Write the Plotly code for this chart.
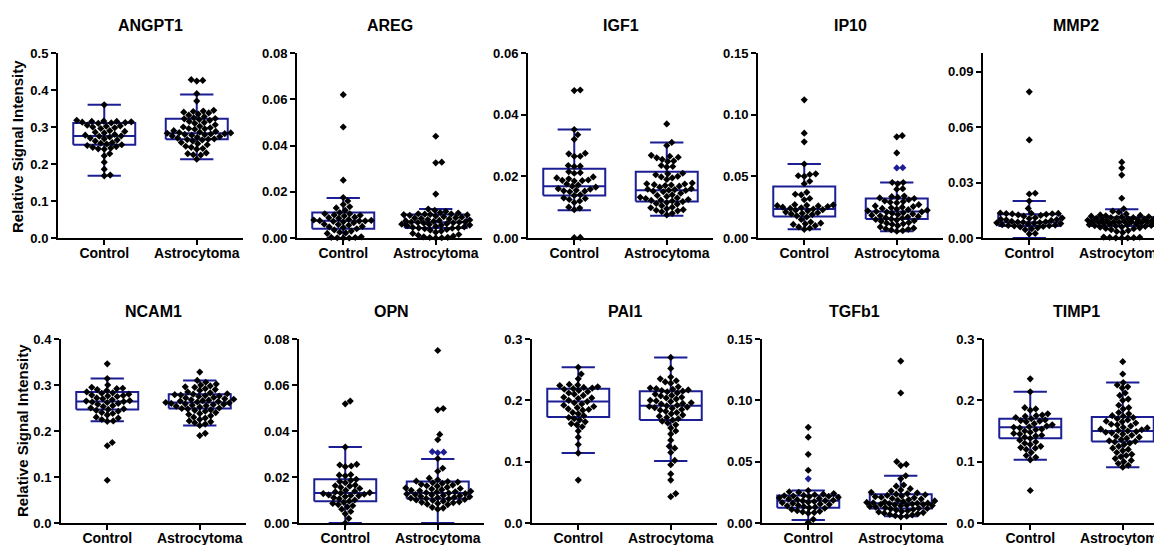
import plotly.graph_objects as go
import numpy as np

# ---------------- data ----------------
panels = ["ANGPT1", "AREG", "IGF1", "IP10", "MMP2", "NCAM1", "OPN", "PAI1", "TGFb1", "TIMP1"]
groups = ["Control", "Astrocytoma"]
y_max = [0.5, 0.08, 0.06, 0.15, 0.1, 0.4, 0.08, 0.3, 0.15, 0.3]
y_dtick = [0.1, 0.02, 0.02, 0.05, 0.03, 0.1, 0.02, 0.1, 0.05, 0.1]
y_fmt = [".1f", ".2f", ".2f", ".2f", ".2f", ".1f", ".2f", ".1f", ".2f", ".1f"]
y_title = "Relative Signal Intensity"

angpt1_control = [0.360, 0.318, 0.316, 0.315, 0.315, 0.314, 0.313, 0.312, 0.311, 0.310, 0.305, 0.303, 0.302, 0.300, 0.298,
                  0.296, 0.290, 0.288, 0.286, 0.284, 0.280, 0.278, 0.276, 0.275, 0.273, 0.270, 0.268, 0.265, 0.262, 0.258,
                  0.256, 0.254, 0.252, 0.250, 0.247, 0.245, 0.243, 0.241, 0.240, 0.228, 0.222, 0.205, 0.186, 0.170, 0.168]
angpt1_astro = [0.428, 0.426, 0.424, 0.390, 0.370, 0.345, 0.343, 0.342, 0.340, 0.338, 0.335, 0.332, 0.328, 0.325, 0.323,
                0.322, 0.320, 0.318, 0.315, 0.312, 0.310, 0.306, 0.302, 0.300, 0.298, 0.296, 0.295, 0.294, 0.290, 0.288,
                0.286, 0.285, 0.284, 0.283, 0.282, 0.281, 0.280, 0.279, 0.278, 0.276, 0.274, 0.272, 0.270, 0.268, 0.267,
                0.266, 0.265, 0.262, 0.258, 0.255, 0.252, 0.248, 0.245, 0.242, 0.240, 0.230, 0.228, 0.225, 0.224, 0.213]

areg_control = [0.062, 0.048, 0.025, 0.0175, 0.016, 0.0145, 0.013, 0.0135, 0.012, 0.011, 0.0105, 0.0105, 0.010, 0.0098,
                0.0095, 0.009, 0.0088, 0.0085, 0.008, 0.0078, 0.0076, 0.0075, 0.0074, 0.0073, 0.0072, 0.007, 0.0066,
                0.006, 0.0058, 0.0055, 0.005, 0.0048, 0.0045, 0.004, 0.0035, 0.003, 0.0025, 0.0022, 0.002, 0.0005,
                0.0003, 0.0002, 0.0001, 0.0, 0.0]
areg_astro = [0.044, 0.0328, 0.0325, 0.019, 0.0125, 0.012, 0.0115, 0.011, 0.0108, 0.0105, 0.0104, 0.0103, 0.0102, 0.0101,
              0.010, 0.0098, 0.0095, 0.0092, 0.009, 0.0088, 0.0086, 0.0084, 0.0082, 0.008, 0.0078, 0.0076, 0.0074, 0.0072,
              0.007, 0.0069, 0.0068, 0.0067, 0.0066, 0.0064, 0.0062, 0.006, 0.0058, 0.0056, 0.0055, 0.0053, 0.005, 0.0048,
              0.0046, 0.0044, 0.0043, 0.0042, 0.004, 0.0037, 0.0034, 0.003, 0.0025, 0.002, 0.0015, 0.0012, 0.0008,
              0.0005, 0.0003, 0.0002, 0.0001, 0.0]

igf1_control = [0.0480, 0.0478, 0.0352, 0.0335, 0.0320, 0.0275, 0.0273, 0.0265, 0.0265, 0.0235, 0.0233, 0.0232, 0.0215,
                0.0212, 0.0210, 0.0198, 0.0195, 0.0192, 0.0188, 0.0187, 0.0186, 0.0185, 0.0175, 0.0172, 0.0168, 0.0165,
                0.0160, 0.0158, 0.0155, 0.0153, 0.0152, 0.0150, 0.0140, 0.0138, 0.0130, 0.0128, 0.0125, 0.0120, 0.0115,
                0.0100, 0.0097, 0.0092, 0.0002, 0.0001]
igf1_astro = [0.0370, 0.0310, 0.0300, 0.0268, 0.0265, 0.0262, 0.0260, 0.0255, 0.0250, 0.0248, 0.0235, 0.0232, 0.0230,
              0.0210, 0.0208, 0.0205, 0.0200, 0.0198, 0.0195, 0.0190, 0.0178, 0.0176, 0.0175, 0.0173, 0.0172, 0.0170,
              0.0168, 0.0165, 0.0160, 0.0158, 0.0157, 0.0155, 0.0154, 0.0152, 0.0150, 0.0145, 0.0140, 0.0138, 0.0135,
              0.0132, 0.0130, 0.0128, 0.0125, 0.0123, 0.0122, 0.0120, 0.0118, 0.0115, 0.0112, 0.0110, 0.0105, 0.0100,
              0.0098, 0.0095, 0.0092, 0.0090, 0.0088, 0.0085, 0.0080, 0.0075]

ip10_control = [0.112, 0.085, 0.078, 0.060, 0.0520, 0.0515, 0.0505, 0.0500, 0.0460, 0.0440, 0.0370, 0.0355, 0.0350,
                0.0320, 0.0310, 0.0270, 0.0268, 0.0265, 0.0262, 0.0260, 0.0255, 0.0250, 0.0245, 0.0240, 0.0235, 0.0230,
                0.0225, 0.0220, 0.0210, 0.0205, 0.0200, 0.0195, 0.0190, 0.0180, 0.0170, 0.0150, 0.0130, 0.0120, 0.0115,
                0.0110, 0.0100, 0.0090, 0.0080, 0.0070]
ip10_astro = [0.083, 0.082, 0.069, 0.057, 0.0568, 0.045, 0.0450, 0.0440, 0.0400, 0.0395, 0.0340, 0.0335, 0.0330, 0.0325,
              0.0320, 0.0310, 0.0300, 0.0295, 0.0290, 0.0285, 0.0270, 0.0260, 0.0255, 0.0250, 0.0245, 0.0240, 0.0235,
              0.0230, 0.0225, 0.0220, 0.0215, 0.0212, 0.0210, 0.0205, 0.0200, 0.0195, 0.0190, 0.0185, 0.0180, 0.0175,
              0.0170, 0.0165, 0.0160, 0.0155, 0.0150, 0.0145, 0.0140, 0.0135, 0.0125, 0.0120, 0.0115, 0.0110, 0.0100,
              0.0090, 0.0080, 0.0075, 0.0070, 0.0065, 0.0060, 0.0055]

mmp2_control = [0.079, 0.053, 0.0242, 0.0238, 0.0200, 0.0160, 0.0135, 0.0134, 0.0133, 0.0132, 0.0131, 0.0130, 0.0128,
                0.0125, 0.0122, 0.0118, 0.0110, 0.0108, 0.0105, 0.0102, 0.0100, 0.0098, 0.0095, 0.0090, 0.0088, 0.0086,
                0.0085, 0.0084, 0.0082, 0.0080, 0.0078, 0.0075, 0.0072, 0.0070, 0.0068, 0.0066, 0.0065, 0.0062, 0.0060,
                0.0055, 0.0050, 0.0045, 0.0025, 0.0022]
mmp2_astro = [0.041, 0.0378, 0.034, 0.0215, 0.0158, 0.0145, 0.0140, 0.0130, 0.0125, 0.0122, 0.0120, 0.0118, 0.0115,
              0.0113, 0.0112, 0.0111, 0.0110, 0.0108, 0.0106, 0.0104, 0.0102, 0.0100, 0.0098, 0.0096, 0.0094, 0.0092,
              0.0090, 0.0089, 0.0088, 0.0087, 0.0086, 0.0085, 0.0084, 0.0082, 0.0080, 0.0078, 0.0076, 0.0074, 0.0072,
              0.0070, 0.0068, 0.0066, 0.0065, 0.0063, 0.0060, 0.0058, 0.0055, 0.0052, 0.0050, 0.0045, 0.0040, 0.0035,
              0.0030, 0.0005, 0.0004, 0.0003, 0.0002, 0.0001, 0.0001, 0.0]

ncam1_control = [0.346, 0.314, 0.300, 0.295, 0.293, 0.292, 0.290, 0.288, 0.285, 0.283, 0.282, 0.280, 0.278, 0.277, 0.276,
                 0.275, 0.272, 0.270, 0.268, 0.266, 0.265, 0.264, 0.263, 0.262, 0.260, 0.258, 0.255, 0.253, 0.250, 0.248,
                 0.247, 0.245, 0.243, 0.240, 0.238, 0.235, 0.230, 0.228, 0.225, 0.222, 0.221, 0.175, 0.168, 0.093]
ncam1_astro = [0.328, 0.310, 0.306, 0.302, 0.300, 0.298, 0.296, 0.295, 0.292, 0.290, 0.288, 0.285, 0.283, 0.281, 0.280,
               0.279, 0.278, 0.277, 0.276, 0.275, 0.273, 0.272, 0.270, 0.269, 0.268, 0.267, 0.266, 0.265, 0.264, 0.263,
               0.262, 0.261, 0.260, 0.259, 0.258, 0.257, 0.256, 0.255, 0.254, 0.252, 0.250, 0.249, 0.248, 0.246, 0.245,
               0.243, 0.240, 0.238, 0.236, 0.233, 0.230, 0.228, 0.225, 0.222, 0.220, 0.218, 0.215, 0.212, 0.195, 0.190]

opn_control = [0.0530, 0.0518, 0.0330, 0.0255, 0.0252, 0.0248, 0.0245, 0.0210, 0.0208, 0.0205, 0.0190, 0.0185, 0.0180,
               0.0175, 0.0165, 0.0162, 0.0160, 0.0155, 0.0150, 0.0142, 0.0138, 0.0135, 0.0132, 0.0130, 0.0128, 0.0125,
               0.0122, 0.0120, 0.0118, 0.0115, 0.0110, 0.0105, 0.0100, 0.0095, 0.0090, 0.0085, 0.0080, 0.0075, 0.0070,
               0.0060, 0.0050, 0.0040, 0.0020, 0.0000]
opn_astro = [0.0750, 0.0498, 0.0492, 0.0385, 0.0362, 0.0310, 0.0308, 0.0305, 0.0280, 0.0238, 0.0225, 0.0195, 0.0188,
             0.0182, 0.0180, 0.0178, 0.0175, 0.0172, 0.0168, 0.0165, 0.0162, 0.0160, 0.0155, 0.0152, 0.0150, 0.0148,
             0.0145, 0.0142, 0.0140, 0.0138, 0.0136, 0.0134, 0.0132, 0.0130, 0.0128, 0.0126, 0.0124, 0.0122, 0.0120,
             0.0118, 0.0116, 0.0114, 0.0112, 0.0110, 0.0108, 0.0106, 0.0105, 0.0102, 0.0100, 0.0098, 0.0095, 0.0092,
             0.0090, 0.0088, 0.0085, 0.0082, 0.0080, 0.0068, 0.0065, 0.0060]

pai1_control = [0.254, 0.243, 0.235, 0.226, 0.225, 0.224, 0.222, 0.221, 0.220, 0.219, 0.218, 0.216, 0.214, 0.212, 0.210,
                0.208, 0.205, 0.204, 0.203, 0.200, 0.198, 0.196, 0.194, 0.192, 0.190, 0.188, 0.186, 0.185, 0.184, 0.180,
                0.178, 0.175, 0.172, 0.170, 0.168, 0.165, 0.162, 0.160, 0.157, 0.150, 0.140, 0.128, 0.114, 0.070]
pai1_astro = [0.270, 0.252, 0.238, 0.235, 0.232, 0.230, 0.228, 0.222, 0.220, 0.219, 0.218, 0.217, 0.216, 0.215, 0.214,
              0.212, 0.210, 0.208, 0.207, 0.205, 0.204, 0.202, 0.200, 0.199, 0.198, 0.196, 0.195, 0.194, 0.192, 0.191,
              0.190, 0.189, 0.188, 0.187, 0.185, 0.184, 0.182, 0.180, 0.178, 0.176, 0.174, 0.172, 0.170, 0.168, 0.166,
              0.163, 0.160, 0.155, 0.150, 0.145, 0.135, 0.125, 0.122, 0.115, 0.102, 0.095, 0.080, 0.070, 0.048, 0.043]

tgfb1_control = [0.0780, 0.0700, 0.0560, 0.0430, 0.0360, 0.0265, 0.0255, 0.0250, 0.0240, 0.0235, 0.0230, 0.0225, 0.0222,
                 0.0220, 0.0218, 0.0215, 0.0210, 0.0205, 0.0200, 0.0195, 0.0190, 0.0185, 0.0182, 0.0180, 0.0175, 0.0170,
                 0.0165, 0.0160, 0.0155, 0.0150, 0.0145, 0.0140, 0.0135, 0.0130, 0.0125, 0.0120, 0.0110, 0.0100, 0.0095,
                 0.0090, 0.0085, 0.0080, 0.0030, 0.0005]
tgfb1_astro = [0.1320, 0.1060, 0.0500, 0.0478, 0.0468, 0.0385, 0.0360, 0.0310, 0.0300, 0.0280, 0.0270, 0.0260, 0.0250,
               0.0245, 0.0240, 0.0235, 0.0230, 0.0225, 0.0220, 0.0215, 0.0210, 0.0205, 0.0200, 0.0195, 0.0190, 0.0185,
               0.0180, 0.0175, 0.0172, 0.0168, 0.0165, 0.0162, 0.0160, 0.0158, 0.0155, 0.0152, 0.0150, 0.0148, 0.0145,
               0.0142, 0.0140, 0.0135, 0.0130, 0.0125, 0.0120, 0.0118, 0.0115, 0.0110, 0.0105, 0.0100, 0.0095, 0.0090,
               0.0085, 0.0080, 0.0075, 0.0070, 0.0065, 0.0060, 0.0055, 0.0050]

timp1_control = [0.235, 0.214, 0.188, 0.186, 0.184, 0.178, 0.176, 0.175, 0.174, 0.172, 0.170, 0.168, 0.167, 0.166, 0.165,
                 0.162, 0.160, 0.158, 0.157, 0.156, 0.155, 0.153, 0.152, 0.150, 0.148, 0.146, 0.145, 0.143, 0.142, 0.140,
                 0.138, 0.135, 0.132, 0.130, 0.128, 0.125, 0.123, 0.122, 0.120, 0.115, 0.110, 0.107, 0.103, 0.053]
timp1_astro = [0.263, 0.243, 0.229, 0.225, 0.222, 0.220, 0.212, 0.208, 0.202, 0.200, 0.192, 0.188, 0.186, 0.180, 0.178,
               0.175, 0.174, 0.172, 0.170, 0.168, 0.166, 0.165, 0.163, 0.161, 0.160, 0.158, 0.156, 0.155, 0.153, 0.152,
               0.151, 0.150, 0.149, 0.148, 0.147, 0.145, 0.143, 0.141, 0.140, 0.138, 0.136, 0.134, 0.133, 0.132, 0.130,
               0.128, 0.125, 0.122, 0.120, 0.118, 0.115, 0.112, 0.110, 0.108, 0.105, 0.102, 0.100, 0.097, 0.094, 0.091]

# box statistics: [lower whisker, Q1, median, Q3, upper whisker]
angpt1_box = [[0.168, 0.252, 0.276, 0.311, 0.360], [0.213, 0.267, 0.283, 0.322, 0.388]]
areg_box = [[0.0, 0.0040, 0.0075, 0.0110, 0.0173], [0.0, 0.0043, 0.0068, 0.0102, 0.0125]]
igf1_box = [[0.0090, 0.0138, 0.0168, 0.0225, 0.0352], [0.0072, 0.0118, 0.0155, 0.0215, 0.0310]]
ip10_box = [[0.0070, 0.0175, 0.0235, 0.0418, 0.0600], [0.0055, 0.0155, 0.0215, 0.0320, 0.0450]]
mmp2_box = [[0.0, 0.0065, 0.0085, 0.0128, 0.0200], [0.0, 0.0065, 0.0085, 0.0112, 0.0155]]
ncam1_box = [[0.221, 0.247, 0.264, 0.285, 0.314], [0.212, 0.249, 0.262, 0.280, 0.310]]
opn_box = [[0.0, 0.0095, 0.0130, 0.0190, 0.0330], [0.0, 0.0105, 0.0130, 0.0180, 0.0278]]
pai1_box = [[0.114, 0.173, 0.198, 0.219, 0.254], [0.101, 0.168, 0.191, 0.215, 0.270]]
tgfb1_box = [[0.0025, 0.0125, 0.0182, 0.0225, 0.0265], [0.0055, 0.0118, 0.0162, 0.0235, 0.0385]]
timp1_box = [[0.103, 0.138, 0.156, 0.170, 0.214], [0.091, 0.133, 0.150, 0.173, 0.229]]

# points drawn in blue in the picture
blue_points = {("IP10", 1): [0.057, 0.0568], ("OPN", 1): [0.0310, 0.0308, 0.0305], ("TGFb1", 0): [0.0360]}

data = {
    "ANGPT1": (angpt1_control, angpt1_astro, angpt1_box),
    "AREG": (areg_control, areg_astro, areg_box),
    "IGF1": (igf1_control, igf1_astro, igf1_box),
    "IP10": (ip10_control, ip10_astro, ip10_box),
    "MMP2": (mmp2_control, mmp2_astro, mmp2_box),
    "NCAM1": (ncam1_control, ncam1_astro, ncam1_box),
    "OPN": (opn_control, opn_astro, opn_box),
    "PAI1": (pai1_control, pai1_astro, pai1_box),
    "TGFb1": (tgfb1_control, tgfb1_astro, tgfb1_box),
    "TIMP1": (timp1_control, timp1_astro, timp1_box),
}

# ---------------- layout geometry (page pixels; page body has an 8px margin) ----------------
PAGE_W, PAGE_H = 1162, 545
OFF = 8
W, H = PAGE_W - OFF, PAGE_H - OFF
left_px = [58, 297, 528, 758, 983, 61, 299, 532, 762, 984]
plot_w = 185
row_top = [53, 339]
row_bot = [238, 523]
NAVY = "#1c1f94"
FONT = "Arial, Liberation Sans, sans-serif"
PX_PER_UNIT = plot_w / 2.0


def fx(px):
    return (px - OFF) / W


def fy(py):
    return 1 - (py - OFF) / H


def swarm(vals, ymax, plot_h, diam=5.6, max_off=34):
    ppy = plot_h / ymax
    vals = np.asarray(vals, dtype=float)
    order = np.argsort(vals)
    placed = []
    xs = np.zeros(len(vals))
    cands = [0.0]
    for k in range(1, 2 * max_off + 1):
        cands += [k * 0.5, -k * 0.5]
    for i in order:
        yp = vals[i] * ppy
        near = [(px, py) for px, py in placed if abs(yp - py) < diam]
        best, best_d = 0.0, -1
        chosen = None
        for c in cands:
            d = min([(c - px) ** 2 + (yp - py) ** 2 for px, py in near], default=1e9)
            if d >= diam ** 2:
                chosen = c
                break
            if d > best_d:
                best, best_d = c, d
        if chosen is None:
            chosen = best
        placed.append((chosen, yp))
        xs[i] = chosen / PX_PER_UNIT
    return xs


fig = go.Figure()
layout = dict(
    width=W, height=H, margin=dict(l=0, r=0, t=0, b=0),
    paper_bgcolor="white", plot_bgcolor="white", showlegend=False,
    font=dict(family=FONT, color="black"),
)
annotations = []

for p, name in enumerate(panels):
    row = 0 if p < 5 else 1
    ctrl, astro, box = data[name]
    ax = "" if p == 0 else str(p + 1)
    xref, yref = "x" + ax, "y" + ax
    right_px = min(left_px[p] + plot_w, OFF + W)
    x0, x1 = fx(left_px[p]), fx(right_px)
    x_hi = -0.5 + (right_px - left_px[p]) / PX_PER_UNIT
    y0, y1 = fy(row_bot[row]), fy(row_top[row])
    plot_h = row_bot[row] - row_top[row]

    # boxes
    bx, by = [], []
    hw = 0.335
    cw = 0.18
    for g in range(2):
        lo, q1, med, q3, hi = box[g]
        c = g
        bx += [c - hw, c + hw, c + hw, c - hw, c - hw, None]
        by += [q1, q1, q3, q3, q1, None]
        bx += [c - hw, c + hw, None]
        by += [med, med, None]
        bx += [c, c, None, c, c, None]
        by += [q3, hi, None, q1, lo, None]
        bx += [c - cw, c + cw, None, c - cw, c + cw, None]
        by += [hi, hi, None, lo, lo, None]
    fig.add_trace(go.Scatter(x=bx, y=by, mode="lines", line=dict(color=NAVY, width=2),
                             xaxis=xref, yaxis=yref, hoverinfo="skip", cliponaxis=False))

    # points
    for g, vals in enumerate([ctrl, astro]):
        offs = swarm(vals, y_max[p], plot_h)
        blues = list(blue_points.get((name, g), []))
        cols = []
        for v in vals:
            if v in blues:
                cols.append(NAVY)
                blues.remove(v)
            else:
                cols.append("black")
        fig.add_trace(go.Scatter(x=g + offs, y=vals, mode="markers",
                                 marker=dict(symbol="diamond", size=5.5, color=cols, line=dict(width=0)),
                                 xaxis=xref, yaxis=yref, cliponaxis=False, name=groups[g]))

    layout["xaxis" + ax] = dict(
        domain=[x0, x1], anchor=yref, range=[-0.5, x_hi], tickvals=[0, 1], ticktext=groups,
        showline=True, linecolor="black", linewidth=2, ticks="outside", ticklen=5, tickwidth=2,
        tickcolor="black", showgrid=False, zeroline=False, automargin=False, ticklabelstandoff=-4,
        ticklabeloverflow="allow",
        tickfont=dict(family=FONT, size=14, color="black", weight="bold"),
    )
    layout["yaxis" + ax] = dict(
        domain=[y0, y1], anchor=xref, range=[0, y_max[p]], dtick=y_dtick[p], tick0=0, tickformat=y_fmt[p],
        showline=True, linecolor="black", linewidth=2, ticks="outside", ticklen=5, tickwidth=2,
        tickcolor="black", showgrid=False, zeroline=False, automargin=False,
        tickfont=dict(family=FONT, size=13, color="black", weight="bold"),
    )
    annotations.append(dict(
        text=name, xref="paper", yref="paper", x=fx(left_px[p] + plot_w / 2), y=fy(row_top[row] - 28),
        showarrow=False, xanchor="center", yanchor="middle",
        font=dict(family=FONT, size=16, color="black", weight="bold"),
    ))

for row, (xc, yc) in enumerate([(17, 147), (22, 431)]):
    annotations.append(dict(
        text=y_title, xref="paper", yref="paper", x=fx(xc), y=fy(yc), textangle=-90,
        showarrow=False, xanchor="center", yanchor="middle",
        font=dict(family=FONT, size=15, color="black", weight="bold"),
    ))

layout["annotations"] = annotations
fig.update_layout(**layout)
fig.write_html("out.html")
